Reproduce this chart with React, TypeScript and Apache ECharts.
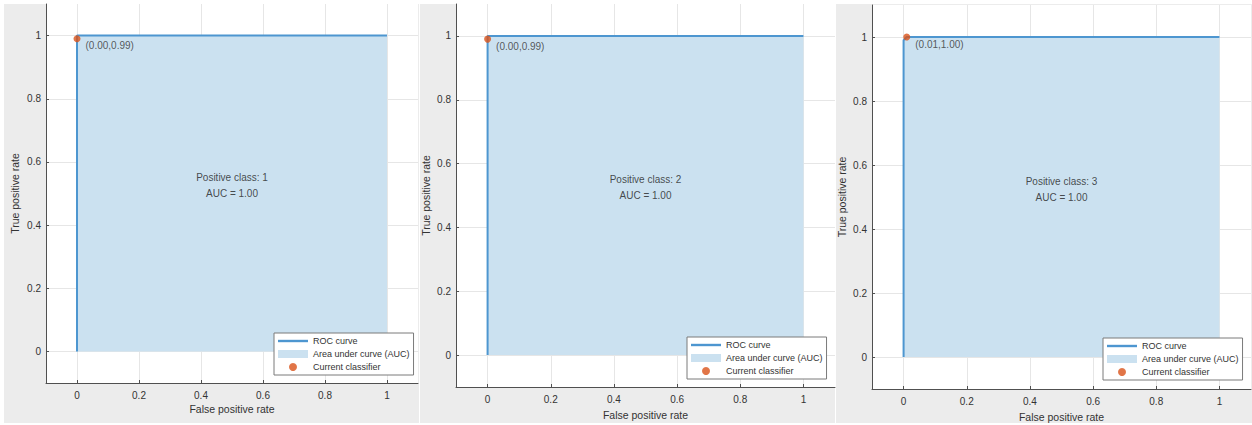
import React, { useEffect, useRef } from "react";
import * as echarts from "echarts";

// ---- data ----
const classLabels = ["1", "2", "3"];
const aucValues = [1.0, 1.0, 1.0];
const rocCurve1 = [[0, 0], [0, 0.99], [0, 1], [1, 1]];
const rocCurve2 = [[0, 0], [0, 0.99], [0, 1], [1, 1]];
const rocCurve3 = [[0, 0], [0, 0.99], [0.01, 1], [1, 1]];
const rocCurves = [rocCurve1, rocCurve2, rocCurve3];
const classifierPoints = [[0.0, 0.99], [0.0, 0.99], [0.01, 1.0]];
const xTicks = [0, 0.2, 0.4, 0.6, 0.8, 1];
const yTicks = [0, 0.2, 0.4, 0.6, 0.8, 1];
const xTitle = "False positive rate";
const yTitle = "True positive rate";
const legendNames = ["ROC curve", "Area under curve (AUC)", "Current classifier"];

// ---- layout / style ----
const FONT = "'Liberation Sans', Arial, Helvetica, sans-serif";
const BLUE = "#4d96d0";
const FILL = "#cbe1f0";
const ORANGE = "#d95319";
const AXIS = "#505050";
const TEXT = "#333333";
const GRIDLINE = "#e6e6e6";
const PANEL_BG = "#ececec";

const grids = [
  { left: 46, top: 4, width: 372, height: 379 },
  { left: 456, top: 4, width: 379, height: 383 },
  { left: 872, top: 5, width: 379, height: 384 },
];
const panelsBg = [
  { x: 4, y: 4, w: 415, h: 419 },
  { x: 420, y: 4, w: 415, h: 419 },
  { x: 836, y: 4, w: 416, h: 419 },
];
const xNameGaps = [20, 22, 22];
const yNameGaps = [26, 25, 25];
const legendPos = [
  { left: 274, top: 333 },
  { left: 687, top: 337 },
  { left: 1103, top: 338 },
];

function buildOption() {
  const series: any[] = [];
  rocCurves.forEach((curve, i) => {
    series.push({
      name: legendNames[1],
      type: "line",
      xAxisIndex: i,
      yAxisIndex: i,
      data: curve,
      showSymbol: false,
      symbol: "none",
      lineStyle: { width: 0, opacity: 0 },
      itemStyle: { color: FILL },
      areaStyle: { color: FILL, opacity: 1 },
      z: 1,
    });
    series.push({
      name: legendNames[0],
      type: "line",
      xAxisIndex: i,
      yAxisIndex: i,
      data: curve,
      showSymbol: false,
      symbol: "none",
      lineStyle: { width: 2, color: BLUE },
      itemStyle: { color: BLUE },
      z: 2,
    });
    const p = classifierPoints[i];
    series.push({
      name: legendNames[2],
      type: "scatter",
      xAxisIndex: i,
      yAxisIndex: i,
      data: [p],
      symbolSize: 7,
      itemStyle: { color: ORANGE },
      label: {
        show: true,
        position: "right",
        distance: 5,
        offset: [0, 7],
        formatter: () => `(${p[0].toFixed(2)},${p[1].toFixed(2)})`,
        fontSize: 10,
        fontFamily: FONT,
        color: TEXT,
      },
      z: 5,
    });
    series.push({
      name: "annotation",
      type: "scatter",
      xAxisIndex: i,
      yAxisIndex: i,
      data: [[0.5, 0.525]],
      symbolSize: 1,
      itemStyle: { color: "transparent" },
      label: {
        show: true,
        position: "inside",
        formatter: () =>
          `Positive class: ${classLabels[i]}\nAUC = ${aucValues[i].toFixed(2)}`,
        fontSize: 10,
        lineHeight: 16,
        fontFamily: FONT,
        color: "#222",
      },
      z: 4,
    });
  });

  const axisCommon = (ticks: number[]) => ({
    type: "value",
    min: -0.1,
    max: 1.1,
    axisLine: { show: true, onZero: false, lineStyle: { color: AXIS, width: 1 } },
    axisTick: {
      show: true,
      inside: true,
      length: 3,
      customValues: ticks,
      lineStyle: { color: AXIS },
    },
    axisLabel: {
      show: true,
      customValues: ticks,
      fontSize: 10,
      fontFamily: FONT,
      color: TEXT,
    },
    splitLine: { show: true, lineStyle: { color: GRIDLINE, width: 1 } },
    nameLocation: "middle",
    nameMoveOverlap: false,
    nameTextStyle: { fontSize: 10.5, fontFamily: FONT, color: TEXT },
  });

  return {
    animation: false,
    backgroundColor: "transparent",
    textStyle: { fontFamily: FONT },
    grid: grids.map((g) => ({
      ...g,
      show: false,
      containLabel: false,
      outerBoundsMode: "none",
    })),
    xAxis: grids.map((_, i) => ({
      ...axisCommon(xTicks),
      gridIndex: i,
      name: xTitle,
      nameGap: xNameGaps[i],
      axisLabel: { ...axisCommon(xTicks).axisLabel, margin: 7 },
    })),
    yAxis: grids.map((_, i) => ({
      ...axisCommon(yTicks),
      gridIndex: i,
      name: yTitle,
      nameGap: yNameGaps[i],
      axisLabel: { ...axisCommon(yTicks).axisLabel, margin: 5 },
    })),
    legend: legendPos.map((lp) => ({
      left: lp.left,
      top: lp.top,
      orient: "vertical",
      selectedMode: false,
      data: [
        { name: legendNames[0], icon: "path://M0,0H30V2.4H0Z" },
        { name: legendNames[1], icon: "rect" },
        { name: legendNames[2], icon: "circle" },
      ],
      itemWidth: 30,
      itemHeight: 8,
      itemGap: 3,
      padding: [3, 4, 3, 4],
      backgroundColor: "#ffffff",
      borderColor: "#7a7a7a",
      borderWidth: 1,
      borderRadius: 0,
      itemStyle: { borderWidth: 0 },
      textStyle: { fontSize: 9, lineHeight: 10, color: TEXT, fontFamily: FONT },
    })),
    series,
  };
}

export default function App() {
  const ref = useRef<HTMLDivElement>(null);
  useEffect(() => {
    if (!ref.current) return;
    const chart = echarts.init(ref.current, undefined, { renderer: "svg" });
    chart.setOption(buildOption() as any);
    return () => chart.dispose();
  }, []);
  return (
    <div
      style={{
        position: "absolute",
        left: 0,
        top: 0,
        width: 1252,
        height: 425,
        background: "#ffffff",
        overflow: "hidden",
      }}
    >
      {panelsBg.map((b, i) => (
        <div
          key={"bg" + i}
          style={{
            position: "absolute",
            left: b.x,
            top: b.y,
            width: b.w,
            height: b.h,
            backgroundColor: PANEL_BG,
          }}
        />
      ))}
      {grids.map((g, i) => (
        <div
          key={"plot" + i}
          style={{
            position: "absolute",
            left: g.left,
            top: g.top,
            width: g.width,
            height: g.height,
            backgroundColor: "#ffffff",
          }}
        />
      ))}
      <div
        ref={ref}
        style={{ position: "absolute", left: 0, top: 0, width: 1252, height: 425 }}
      />
    </div>
  );
}
